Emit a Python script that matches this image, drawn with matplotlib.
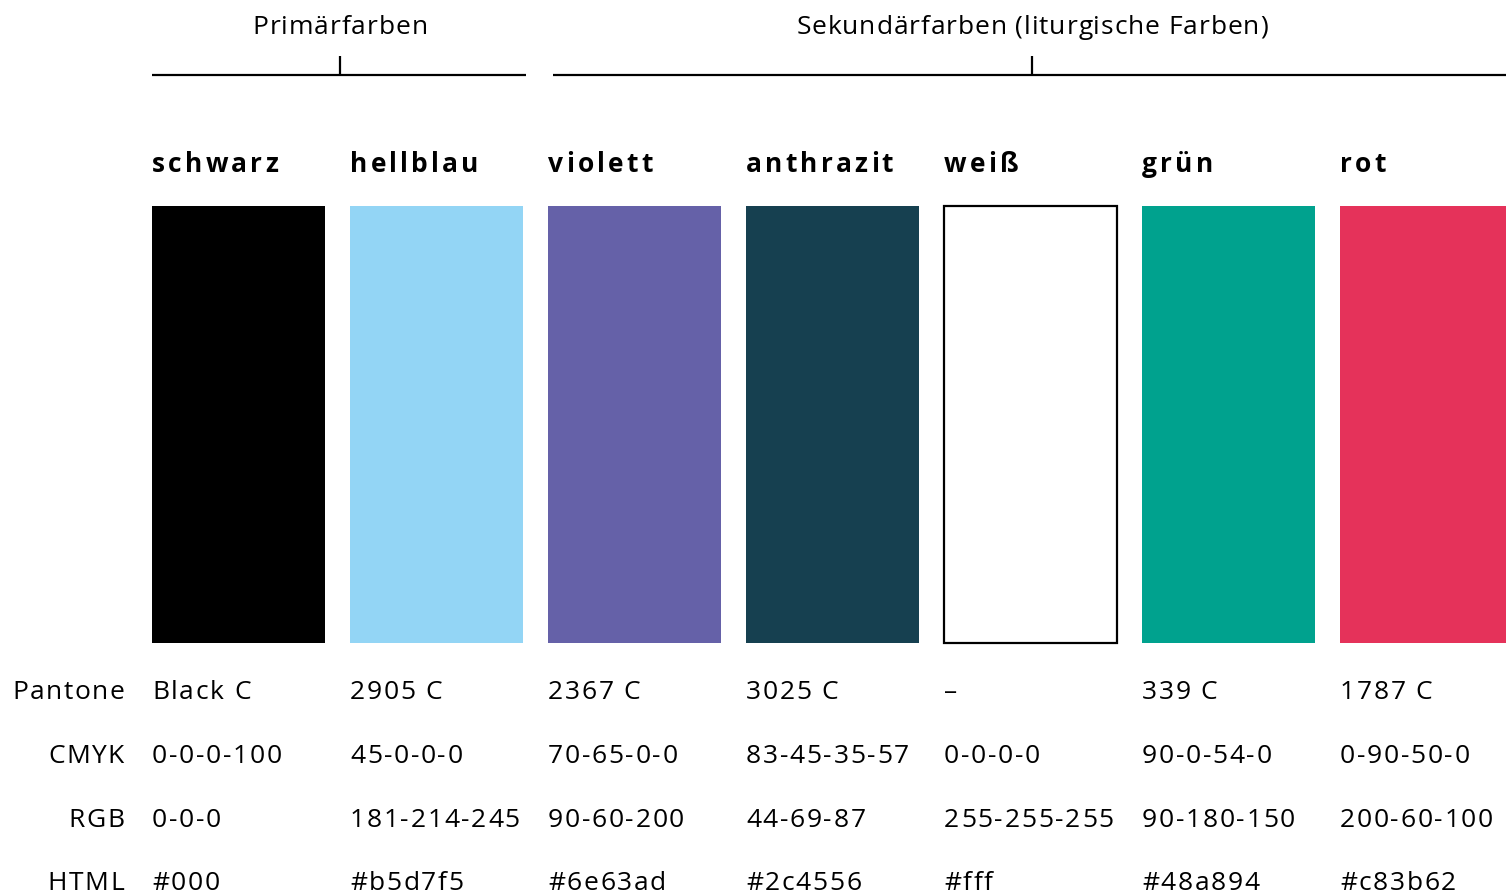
import matplotlib
matplotlib.use("Agg")
import matplotlib.pyplot as plt
from matplotlib.font_manager import FontProperties

names = ["schwarz", "hellblau", "violett", "anthrazit", "weiß", "grün", "rot"]
swatch_colors = ["#000000", "#93d5f5", "#6561a8", "#164050", "#ffffff", "#00a28e", "#e5325a"]
row_labels = ["Pantone", "CMYK", "RGB", "HTML"]
pantone = ["Black C", "2905 C", "2367 C", "3025 C", "–", "339 C", "1787 C"]
cmyk = ["0-0-0-100", "45-0-0-0", "70-65-0-0", "83-45-35-57", "0-0-0-0", "90-0-54-0", "0-90-50-0"]
rgb = ["0-0-0", "181-214-245", "90-60-200", "44-69-87", "255-255-255", "90-180-150", "200-60-100"]
html = ["#000", "#b5d7f5", "#6e63ad", "#2c4556", "#fff", "#48a894", "#c83b62"]
group_titles = ["Primärfarben", "Sekundärfarben (liturgische Farben)"]

W, H = 1506, 894
fig = plt.figure(figsize=(W / 100, H / 100), dpi=100)
ax = fig.add_axes([0, 0, 1, 1])
ax.set_xlim(0, W)
ax.set_ylim(H, 0)
ax.axis("off")
renderer = fig.canvas.get_renderer()


def text_w(s, fp):
    # advance width in pixels, "|" trick keeps trailing spaces
    if not s:
        return 0
    bar = renderer.get_text_width_height_descent("|", fp, ismath=False)[0]
    return renderer.get_text_width_height_descent(s + "|", fp, ismath=False)[0] - bar


def tracked(x, y, s, fp, track, ha="left"):
    total = text_w(s, fp) + track * (len(s) - 1)
    if ha == "right":
        x = x - total
    elif ha == "center":
        x = x - total / 2
    for i, ch in enumerate(s):
        if ch == " ":
            continue
        ax.text(x + text_w(s[:i], fp) + i * track, y, ch, fontproperties=fp,
                va="baseline", ha="left")


x0, step, bw = 152, 198, 173
top, bottom = 206, 643
xs = [x0 + i * step for i in range(len(names))]

edges = ["black" if c == "#ffffff" else c for c in swatch_colors]
lws = [1.6 if c == "#ffffff" else 0 for c in swatch_colors]
ax.bar(xs, bottom - top, width=bw, bottom=top, align="edge",
       color=swatch_colors, edgecolor=edges, linewidth=lws)

head_fp = FontProperties(family="Open Sans", weight="bold", size=19)
for x, n in zip(xs, names):
    tracked(x, 172, n, head_fp, 3.2)

# group brackets
spans = [(152, 526, 340), (553, W, 1032)]
title_fp = FontProperties(family="Open Sans", size=19)
for title, (left, right, mid) in zip(group_titles, spans):
    ax.plot([left, right], [75, 75], color="black", lw=1.6, solid_capstyle="butt")
    ax.plot([mid, mid], [56, 75], color="black", lw=1.6, solid_capstyle="butt")
    tracked(mid, 34, title, title_fp, 0.9, ha="center")

body_fp = FontProperties(family="Open Sans", size=19)
rows = [pantone, cmyk, rgb, html]
baselines = [699, 763, 827, 890]
for lab, vals, yb in zip(row_labels, rows, baselines):
    tracked(124, yb, lab, body_fp, 1.5, ha="right")
    for x, v in zip(xs, vals):
        tracked(x, yb, v, body_fp, 1.7)

fig.savefig("out.png", dpi=100)
